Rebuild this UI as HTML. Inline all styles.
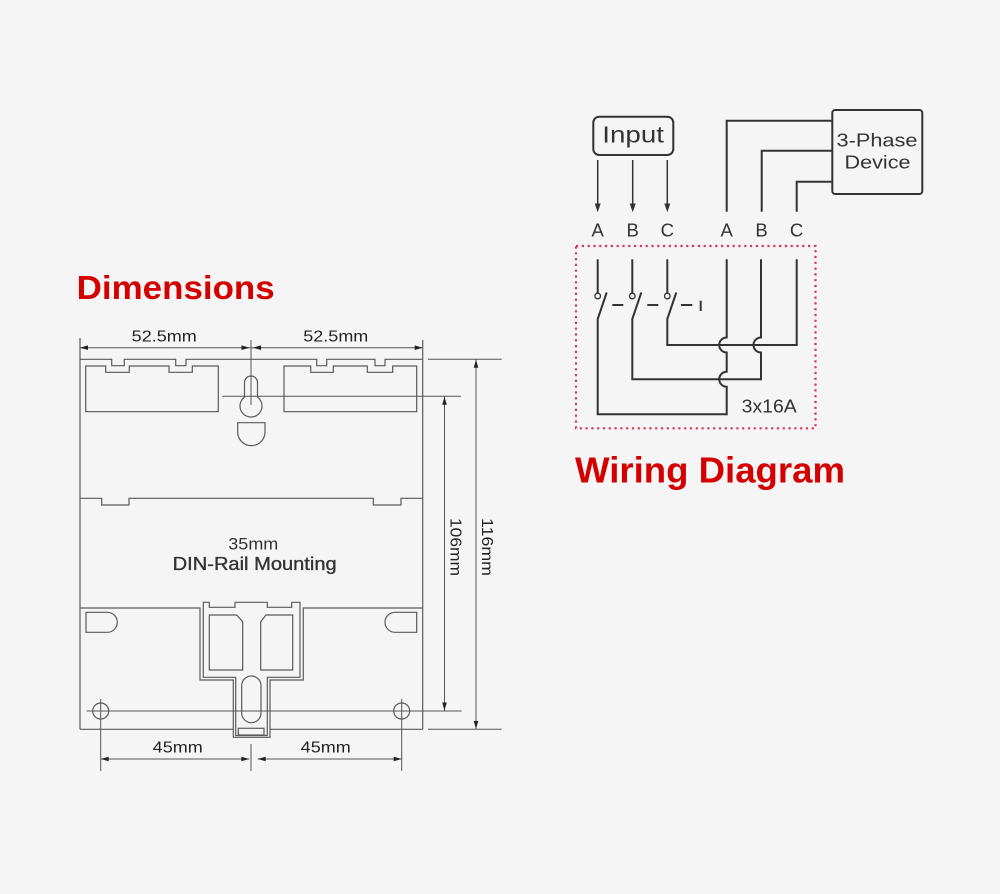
<!DOCTYPE html>
<html><head><meta charset="utf-8"><style>
html,body{margin:0;padding:0;background:#f5f5f5;}
svg{display:block;}
text{font-family:"Liberation Sans",sans-serif;}
</style></head><body>
<svg width="1000" height="894" viewBox="0 0 1000 894" xmlns="http://www.w3.org/2000/svg">
<rect width="1000" height="894" fill="#f5f5f5"/>

<!-- Titles -->
<text x="76.7" y="299" font-size="33.5" font-weight="bold" fill="#d40000" textLength="198" lengthAdjust="spacingAndGlyphs">Dimensions</text>
<text x="575" y="482.7" font-size="36" font-weight="bold" fill="#d40000" textLength="270" lengthAdjust="spacingAndGlyphs">Wiring Diagram</text>

<!-- ===== Dimensions drawing ===== -->
<g fill="none" stroke="#5a5a5a" stroke-width="1.2">
  <line x1="80" y1="338" x2="80" y2="729.3"/>
  <line x1="422.7" y1="340" x2="422.7" y2="729.3"/>
  <path d="M80,359.3 H111.7 V365.7 H124.3 V359.3 H175.7 V365.7 H186 V359.3 H316.7 V365.7 H326.7 V359.3 H375 V365.7 H385 V359.3 H422.7"/>
  <path d="M85.7,366 H105.7 V372.3 H129.3 V366 H169 V372.3 H192.3 V366 H218.3 V411.7 H85.7 Z"/>
  <path d="M284,366 H310.7 V372.3 H333.3 V366 H367.3 V372.3 H392.7 V366 H416.7 V411.7 H284 Z"/>
  <path d="M244.5,382.5 A6.5,6.5 0 0 1 257.5,382.5 V397.1 A11,11 0 1 1 244.5,397.1 Z"/>
  <path d="M237.7,422.7 H265 V432 A13.65,13.65 0 0 1 237.7,432 Z"/>
  <path d="M80,498.3 H101.7 V505 H129 V498.3 H373.3 V505 H401 V498.3 H422.7"/>
  <path d="M80,608 H200 V680 H233.3 V737.3 H270 V680 H303.3 V608 H422.7"/>
  <path d="M203.3,677.3 V602.3 H209.3 V607.3 H235 V602.3 H267.3 V607.3 H291.7 V602.3 H300 V677.3 H267.3 V735.5 H235.7 V677.3 Z"/>
  <path d="M209.3,615 H236.7 L242.7,621.7 V670 H209.3 Z"/>
  <path d="M266,615 H292.7 V670 H260.7 V621.7 Z"/>
  <rect x="241.7" y="676" width="19.3" height="46.7" rx="9.65" ry="9.65"/>
  <rect x="238.3" y="728.3" width="25.7" height="6.7"/>
  <path d="M86,612.3 H107.3 A10,10 0 0 1 107.3,632.3 H86 Z"/>
  <path d="M416.7,612.3 H395 A10,10 0 0 0 395,632.3 H416.7 Z"/>
  <circle cx="100.7" cy="711" r="8"/>
  <circle cx="401.7" cy="711" r="8"/>
  <line x1="80" y1="729.3" x2="233.3" y2="729.3"/>
  <line x1="270" y1="729.3" x2="422.7" y2="729.3"/>
</g>

<g fill="none" stroke="#555" stroke-width="1">
  <line x1="80" y1="347.7" x2="422.7" y2="347.7"/>
  <line x1="251" y1="340" x2="251" y2="405"/>
  <line x1="428" y1="359.3" x2="501.7" y2="359.3"/>
  <line x1="222.3" y1="396.3" x2="461" y2="396.3"/>
  <line x1="86.7" y1="711" x2="461.7" y2="711"/>
  <line x1="428" y1="729.3" x2="501.7" y2="729.3"/>
  <line x1="476" y1="359.3" x2="476" y2="729.3"/>
  <line x1="444.5" y1="396.3" x2="444.5" y2="711"/>
  <line x1="100.7" y1="699" x2="100.7" y2="771"/>
  <line x1="401.7" y1="699" x2="401.7" y2="771"/>
  <line x1="251" y1="744" x2="251" y2="771"/>
  <line x1="100.7" y1="759" x2="249.3" y2="759"/>
  <line x1="257.7" y1="759" x2="401.7" y2="759"/>
</g>
<g fill="#222">
  <polygon points="80,347.7 88,345.4 88,350"/>
  <polygon points="249.5,347.7 241.5,345.4 241.5,350"/>
  <polygon points="253,347.7 261,345.4 261,350"/>
  <polygon points="422.7,347.7 414.7,345.4 414.7,350"/>
  <polygon points="476,359.8 473.7,367.8 478.3,367.8"/>
  <polygon points="476,729 473.7,721 478.3,721"/>
  <polygon points="444.5,396.8 442.2,404.8 446.8,404.8"/>
  <polygon points="444.5,710.5 442.2,702.5 446.8,702.5"/>
  <polygon points="100.7,759 108.7,756.7 108.7,761.3"/>
  <polygon points="249.3,759 241.3,756.7 241.3,761.3"/>
  <polygon points="257.7,759 265.7,756.7 265.7,761.3"/>
  <polygon points="401.7,759 393.7,756.7 393.7,761.3"/>
</g>

<g fill="#222" font-size="16">
  <text x="131.7" y="341.7" textLength="65" lengthAdjust="spacingAndGlyphs">52.5mm</text>
  <text x="303.3" y="341.7" textLength="65" lengthAdjust="spacingAndGlyphs">52.5mm</text>
  <text x="152.7" y="752.3" textLength="50" lengthAdjust="spacingAndGlyphs">45mm</text>
  <text x="300.7" y="752.3" textLength="50" lengthAdjust="spacingAndGlyphs">45mm</text>
  <text transform="translate(450.5,547) rotate(90)" x="-29" y="0" textLength="58" lengthAdjust="spacingAndGlyphs">106mm</text>
  <text transform="translate(482,547) rotate(90)" x="-29" y="0" textLength="58" lengthAdjust="spacingAndGlyphs">116mm</text>
</g>
<g fill="#333" font-size="18">
  <text x="228.3" y="549.3" font-size="17" textLength="50" lengthAdjust="spacingAndGlyphs">35mm</text>
  <text x="172.7" y="570" stroke="#333" stroke-width="0.35" textLength="164" lengthAdjust="spacingAndGlyphs">DIN-Rail Mounting</text>
</g>

<!-- ===== Wiring diagram ===== -->
<rect x="576" y="246" width="239.5" height="182.3" fill="none" stroke="#d6385a" stroke-width="2.2" stroke-dasharray="2.2 3.6"/>

<g fill="none" stroke="#333" stroke-width="2">
  <rect x="593.3" y="116.7" width="80" height="38.3" rx="6" ry="6"/>
  <rect x="832.3" y="110" width="90" height="84" rx="3" ry="3"/>
  <path d="M726.7,211.7 V120.7 H832.3"/>
  <path d="M761.7,211.7 V150.7 H832.3"/>
  <path d="M796.7,211.7 V181.7 H832.3"/>
  <line x1="597.7" y1="259.3" x2="597.7" y2="293.3"/>
  <line x1="632.3" y1="259.3" x2="632.3" y2="293.3"/>
  <line x1="667.3" y1="259.3" x2="667.3" y2="293.3"/>
  <line x1="606.7" y1="292.5" x2="597.7" y2="319"/>
  <line x1="641.3" y1="292.5" x2="632.3" y2="319"/>
  <line x1="676.3" y1="292.5" x2="667.3" y2="319"/>
  <line x1="612.3" y1="305" x2="623.3" y2="305"/>
  <line x1="647.3" y1="305" x2="658.3" y2="305"/>
  <line x1="681" y1="305" x2="692.3" y2="305"/>
  <line x1="700.7" y1="300.7" x2="700.7" y2="311"/>
  <path d="M597.7,318.5 V414.3 H726.7"/>
  <path d="M632.3,318.5 V379.3 H761"/>
  <path d="M667.3,318.5 V345 H796.7 V259.3"/>
  <path d="M726.7,259.3 V337.5 A7.5,7.5 0 0 0 726.7,352.5 V371.8 A7.5,7.5 0 0 0 726.7,386.8 V415.3"/>
  <path d="M761,259.3 V337.5 A7.5,7.5 0 0 0 761,352.5 V380.3"/>
</g>
<g fill="#f5f5f5" stroke="#333" stroke-width="1.3">
  <circle cx="597.7" cy="296" r="2.8"/>
  <circle cx="632.3" cy="296" r="2.8"/>
  <circle cx="667.3" cy="296" r="2.8"/>
</g>
<g stroke="#333" stroke-width="1.5">
  <line x1="597.7" y1="160" x2="597.7" y2="205"/>
  <line x1="632.7" y1="160" x2="632.7" y2="205"/>
  <line x1="667.3" y1="160" x2="667.3" y2="205"/>
</g>
<g fill="#333">
  <polygon points="597.7,212.3 594.7,203.5 600.7,203.5"/>
  <polygon points="632.7,212.3 629.7,203.5 635.7,203.5"/>
  <polygon points="667.3,212.3 664.3,203.5 670.3,203.5"/>
</g>

<g fill="#333">
  <text x="602.3" y="142.3" font-size="23" textLength="61.7" lengthAdjust="spacingAndGlyphs">Input</text>
  <text x="877" y="146.7" font-size="18.7" text-anchor="middle" textLength="81" lengthAdjust="spacingAndGlyphs">3-Phase</text>
  <text x="877.5" y="168.3" font-size="18.7" text-anchor="middle" textLength="66" lengthAdjust="spacingAndGlyphs">Device</text>
  <g font-size="18.5" text-anchor="middle">
    <text x="597.7" y="236.7">A</text>
    <text x="632.7" y="236.7">B</text>
    <text x="667.3" y="236.7">C</text>
    <text x="726.7" y="236.7">A</text>
    <text x="761.5" y="236.7">B</text>
    <text x="796.5" y="236.7">C</text>
  </g>
  <text x="741.7" y="412.7" font-size="18.5" textLength="55" lengthAdjust="spacingAndGlyphs">3x16A</text>
</g>
</svg>
</body></html>
